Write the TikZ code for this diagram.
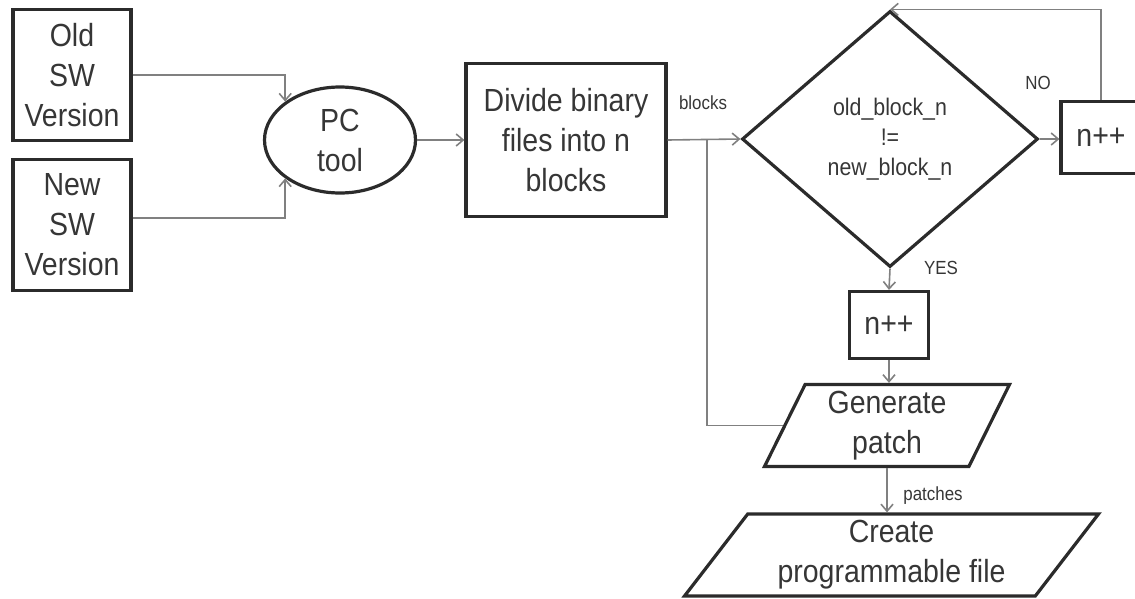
\documentclass[tikz,border=0pt]{standalone}
\usepackage{fontspec}
\setmainfont{Liberation Sans}[FakeStretch=0.89]
\usetikzlibrary{shapes.geometric,arrows.meta}
\definecolor{ink}{HTML}{2B2B2B}
\definecolor{txt}{HTML}{363636}
\definecolor{wirec}{HTML}{808080}
\begin{document}
\begin{tikzpicture}[x=1pt,y=-1pt,
  box/.style={draw=ink, line width=3.2pt, text=txt, align=center, inner sep=0pt,
              font=\fontsize{32}{40}\selectfont},
  rbox/.style={box, rectangle},
  oval/.style={box, ellipse},
  dec/.style={box, diamond, font=\fontsize{24}{30}\selectfont},
  slant/.style={box, trapezium, trapezium stretches body=true},
  conn/.style={draw=wirec, line width=1.6pt, -{Straight Barb[length=7pt,width=12pt]}},
  plain/.style={draw=wirec, line width=1.6pt},
  lbl/.style={text=txt, font=\fontsize{19}{21}\selectfont, inner sep=0pt}]
\useasboundingbox (0,0) rectangle (1135,598);

% inputs and preprocessing
\node[rbox, minimum width=118pt, minimum height=131pt] (old) at (72,75) {Old\\SW\\Version};
\node[rbox, minimum width=118pt, minimum height=131pt] (new) at (72,225) {New\\SW\\Version};
\node[oval, minimum width=151pt, minimum height=106pt] (pc) at (340,140) {PC\\tool};
\node[rbox, minimum width=200pt, minimum height=153pt] (div) at (566,140) {Divide binary\\files into n\\blocks};

% comparison loop
\node[dec, minimum width=296pt, minimum height=256pt] (dia) at (890,139) {old\_block\_n\\!=\\new\_block\_n};
\node[rbox, minimum width=92pt, minimum height=72pt] (nR) at (1107,137.5) {n++\hspace*{12pt}};
\node[rbox, minimum width=79pt, minimum height=67pt] (nY) at (889,325) {n++};

% patch output
\node[slant, trapezium left angle=59.5, trapezium right angle=120.5,
      minimum width=245pt, minimum height=82pt] (gen) at (887,425.5) {Generate\\patch};
\node[slant, trapezium left angle=47.5, trapezium right angle=132.5,
      minimum width=414pt, minimum height=82pt] (cre) at (891.5,555) {Create\\programmable file};

% edge labels
\node[lbl] (lblocks) at (703,103) {blocks};
\node[lbl] (lno) at (1038,83) {NO};
\node[lbl] (lyes) at (941,268) {YES};
\node[lbl] (lpatch) at (933,496) {patches};

% connectors
\coordinate (J) at (707,140);
\draw[conn] (old.east) -| (pc.145);
\draw[conn] ([yshift=7pt]new.east) -| (pc.215);
\draw[conn] (pc.east) -- (div.west);
\draw[conn] (div.east) -- (dia.west);
\draw[plain] (gen.left side) -| (J);
\draw[conn] (dia.east) -- (nR.west |- dia.east);
\draw[conn] ([xshift=-6pt]nR.north) |- (dia.north);
\draw[conn] (dia.south) -- (nY.north);
\draw[conn] (nY.south) -- (nY.south |- gen.north);
\draw[conn] (gen.south) -- (gen.south |- cre.north);
\end{tikzpicture}
\end{document}
